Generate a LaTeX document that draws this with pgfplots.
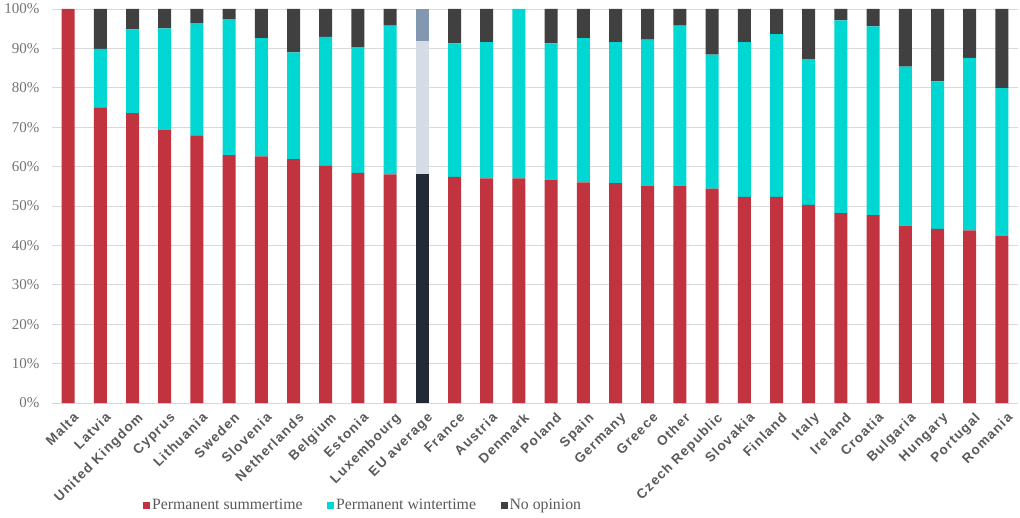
\documentclass[border=0pt]{standalone}
\usepackage{pgfplots}
\pgfplotsset{compat=1.18}
\usepackage{fontspec}
\setmainfont{Liberation Serif}
\newfontfamily\xlab[LetterSpace=9]{Liberation Sans}
\definecolor{cred}{RGB}{193,51,62}
\definecolor{ccyan}{RGB}{0,214,210}
\definecolor{cgray}{RGB}{64,64,64}
\definecolor{eudark}{RGB}{34,42,53}
\definecolor{eumid}{RGB}{214,220,229}
\definecolor{eutop}{RGB}{132,151,176}
\definecolor{txt}{RGB}{89,89,89}
\definecolor{ytxt}{RGB}{115,115,115}
\begin{document}
\begin{tikzpicture}[x=1pt,y=1pt]
\useasboundingbox (0,0) rectangle (1020,517);
\begin{axis}[
  at={(52pt,114pt)}, anchor=south west,
  scale only axis, width=966pt, height=394pt,
  ybar stacked, bar width=13pt,
  xmin=-0.5, xmax=29.5, ymin=0, ymax=100,
  xtick={0,...,29},
  xticklabels={Malta,Latvia,United Kingdom,Cyprus,Lithuania,Sweden,Slovenia,Netherlands,Belgium,Estonia,Luxembourg,EU average,France,Austria,Denmark,Poland,Spain,Germany,Greece,Other,Czech Republic,Slovakia,Finland,Italy,Ireland,Croatia,Bulgaria,Hungary,Portugal,Romania},
  xticklabel style={rotate=45, anchor=north east, font=\xlab\bfseries\fontsize{13.5}{14}\selectfont, text=txt, inner sep=1pt, yshift=-8pt, xshift=-2pt},
  ytick={0,10,...,100},
  yticklabel={\pgfmathprintnumber{\tick}\%},
  yticklabel style={font=\fontsize{15}{17}\selectfont, text=ytxt, xshift=-9pt},
  /pgf/number format/assume math mode=true,
  ymajorgrids, major grid style={draw=black!15, line width=0.8pt},
  axis line style={draw=none}, major tick length=0pt,
  legend columns=3,
  legend style={at={(axis description cs:0.322,-0.259)}, anchor=center, draw=none, fill=none,
    font=\fontsize{15.8}{17}\selectfont, text=txt,
    /tikz/every even column/.append style={column sep=22.5pt}},
  legend image code/.code={\fill[#1] (0pt,-3.5pt) rectangle (7pt,3.5pt);},
]
\addplot[fill=cred, draw=none] coordinates {
(0,100) (1,75.0) (2,73.6) (3,69.4) (4,67.9) (5,62.9) (6,62.6) (7,61.9) (8,60.3) (9,58.4)
(10,58.0) (11,0) (12,57.4) (13,57.0) (14,57.0) (15,56.7) (16,56.0) (17,55.8) (18,55.2) (19,55.2)
(20,54.4) (21,52.3) (22,52.3) (23,50.3) (24,48.2) (25,47.7) (26,45.0) (27,44.2) (28,43.8) (29,42.5)};
\addlegendentry{Permanent summertime}
\addplot[fill=ccyan, draw=none] coordinates {
(0,0) (1,14.9) (2,21.2) (3,25.7) (4,28.5) (5,34.5) (6,30.0) (7,27.1) (8,32.6) (9,31.9)
(10,37.8) (11,0) (12,33.9) (13,34.6) (14,43.0) (15,34.6) (16,36.6) (17,35.8) (18,37.0) (19,40.6)
(20,34.0) (21,39.3) (22,41.3) (23,37.0) (24,48.9) (25,47.9) (26,40.4) (27,37.4) (28,43.8) (29,37.4)};
\addlegendentry{Permanent wintertime}
\addplot[fill=cgray, draw=none] coordinates {
(0,0) (1,10.1) (2,5.2) (3,4.9) (4,3.6) (5,2.6) (6,7.4) (7,11.0) (8,7.1) (9,9.7)
(10,4.2) (11,0) (12,8.7) (13,8.4) (14,0) (15,8.7) (16,7.4) (17,8.4) (18,7.8) (19,4.2)
(20,11.6) (21,8.4) (22,6.4) (23,12.7) (24,2.9) (25,4.4) (26,14.6) (27,18.4) (28,12.4) (29,20.1)};
\addlegendentry{No opinion}
\addplot[fill=eudark, draw=none, forget plot] coordinates {
(0,0) (1,0) (2,0) (3,0) (4,0) (5,0) (6,0) (7,0) (8,0) (9,0)
(10,0) (11,58.2) (12,0) (13,0) (14,0) (15,0) (16,0) (17,0) (18,0) (19,0)
(20,0) (21,0) (22,0) (23,0) (24,0) (25,0) (26,0) (27,0) (28,0) (29,0)};
\addplot[fill=eumid, draw=none, forget plot] coordinates {
(0,0) (1,0) (2,0) (3,0) (4,0) (5,0) (6,0) (7,0) (8,0) (9,0)
(10,0) (11,33.8) (12,0) (13,0) (14,0) (15,0) (16,0) (17,0) (18,0) (19,0)
(20,0) (21,0) (22,0) (23,0) (24,0) (25,0) (26,0) (27,0) (28,0) (29,0)};
\addplot[fill=eutop, draw=none, forget plot] coordinates {
(0,0) (1,0) (2,0) (3,0) (4,0) (5,0) (6,0) (7,0) (8,0) (9,0)
(10,0) (11,8.0) (12,0) (13,0) (14,0) (15,0) (16,0) (17,0) (18,0) (19,0)
(20,0) (21,0) (22,0) (23,0) (24,0) (25,0) (26,0) (27,0) (28,0) (29,0)};
\end{axis}
\end{tikzpicture}
\end{document}
